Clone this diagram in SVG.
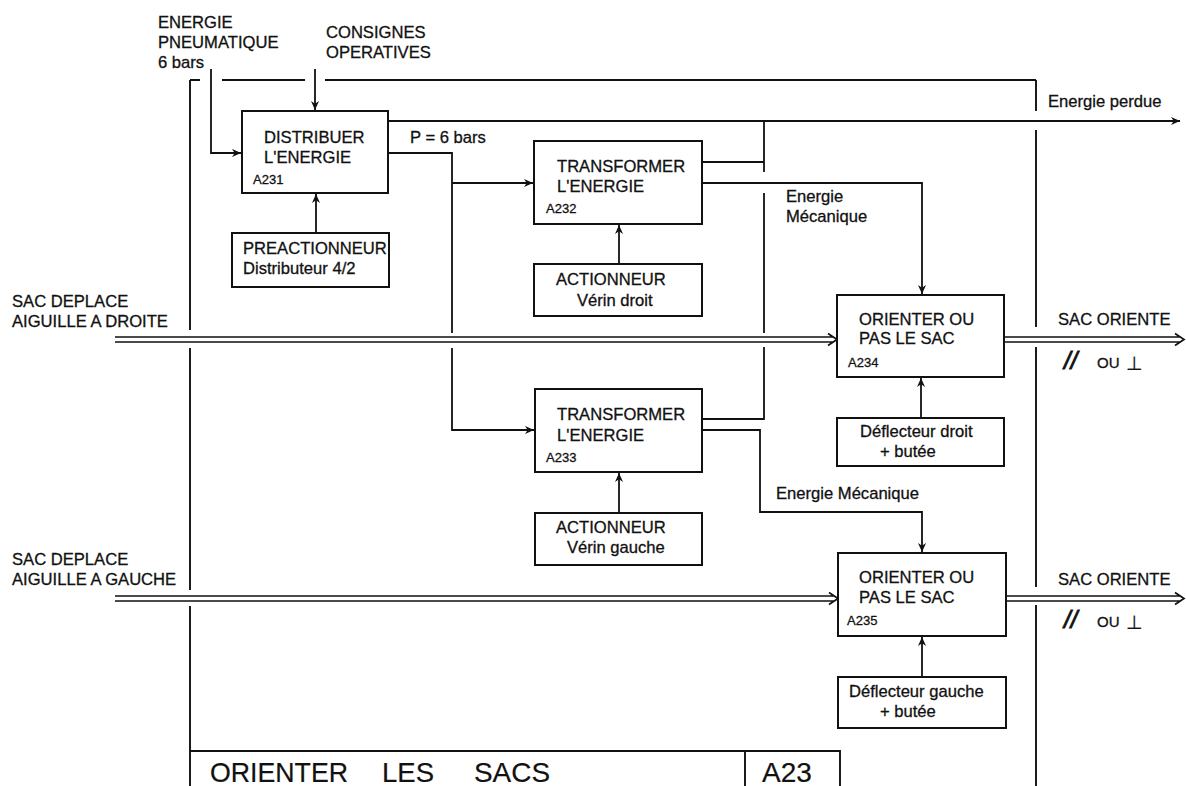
<svg xmlns="http://www.w3.org/2000/svg" width="1186" height="786" viewBox="0 0 1186 786">
<defs>
<marker id="arr" viewBox="0 0 10 10" refX="10" refY="5" markerWidth="9" markerHeight="9" markerUnits="userSpaceOnUse" orient="auto">
<path d="M0,0.5 L10,5 L0,9.5 L3,5 z" fill="#111"/>
</marker>
<style>
text{font-family:"Liberation Sans",Arial,sans-serif;font-size:16.6px;fill:#111;stroke:#111;stroke-width:0.3px}
.sm{font-size:13px}
.big{font-size:28px;stroke-width:0.2px}
.box{fill:#fff;stroke:#111;stroke-width:2}
.ln{fill:none;stroke:#111;stroke-width:1.8}
.dbl{fill:none;stroke:#111;stroke-width:1.7}
.frame{fill:none;stroke:#111;stroke-width:1.9}
.sl{font-size:24px;font-style:italic;stroke-width:0.8px}
.ou{font-size:15px}
.perp{font-family:"DejaVu Sans",sans-serif;font-size:19px;stroke-width:0.2px}
</style>
</defs>
<rect width="1186" height="786" fill="#fff"/>

<g id="frame">
<path class="frame" d="M190,80 V330 M190,348 V590 M190,606 V786"/>
<path class="frame" d="M190,80 H200 M222,80 H305 M325,80 H1036"/>
<path class="frame" d="M1036,80 V111 M1036,130 V327 M1036,347 V587 M1036,605 V786"/>
<path class="frame" d="M190,751 H840 V786 M745,751 V786"/>
<text class="big" x="210" y="782" textLength="138" lengthAdjust="spacingAndGlyphs">ORIENTER</text>
<text class="big" x="382" y="782" textLength="52" lengthAdjust="spacingAndGlyphs">LES</text>
<text class="big" x="474" y="782" textLength="76" lengthAdjust="spacingAndGlyphs">SACS</text>
<text class="big" x="762" y="782">A23</text>
</g>

<g id="connectors">
<path class="ln" d="M211,69 V153 H241" marker-end="url(#arr)"/>
<path class="ln" d="M315,69 V110" marker-end="url(#arr)"/>
<path class="ln" d="M316,233 V194" marker-end="url(#arr)"/>
<path class="ln" d="M388,121 H1180" marker-end="url(#arr)"/>
<path class="ln" d="M388,153 H452 V333 M452,348 V430 H534" marker-end="url(#arr)"/>
<path class="ln" d="M452,183 H533" marker-end="url(#arr)"/>
<path class="ln" d="M702,162 H764 M764,121 V172 M764,193 V333 M764,347 V419 H702"/>
<path class="ln" d="M702,183 H922 V294" marker-end="url(#arr)"/>
<path class="ln" d="M702,430 H760 V512 H922 V552" marker-end="url(#arr)"/>
<path class="ln" d="M619,264 V225" marker-end="url(#arr)"/>
<path class="ln" d="M619,513 V473" marker-end="url(#arr)"/>
<path class="ln" d="M921,418 V378" marker-end="url(#arr)"/>
<path class="ln" d="M922,677 V637" marker-end="url(#arr)"/>
<path class="dbl" d="M115,337 H834 M115,342 H834 M828,333.5 L837,339.5 L828,345.5"/>
<path class="dbl" d="M1004,337 H1181 M1004,342 H1181 M1175,333.5 L1184,339.5 L1175,345.5"/>
<path class="dbl" d="M115,596 H835 M115,601 H835 M829,592.5 L838,598.5 L829,604.5"/>
<path class="dbl" d="M1006,596 H1181 M1006,601 H1181 M1175,592.5 L1184,598.5 L1175,604.5"/>
</g>

<g id="labels">
<text x="158" y="28">ENERGIE</text>
<text x="158" y="48">PNEUMATIQUE</text>
<text x="158" y="68">6 bars</text>
<text x="326" y="38">CONSIGNES</text>
<text x="326" y="58">OPERATIVES</text>
<text x="410" y="143">P = 6 bars</text>
<text x="1048" y="107">Energie perdue</text>
<text x="786" y="202">Energie</text>
<text x="786" y="222">Mécanique</text>
<text x="776" y="499">Energie Mécanique</text>
<text x="12" y="307">SAC DEPLACE</text>
<text x="12" y="327">AIGUILLE A DROITE</text>
<text x="12" y="565">SAC DEPLACE</text>
<text x="12" y="585">AIGUILLE A GAUCHE</text>
<text x="1058" y="325">SAC ORIENTE</text>
<text x="1058" y="585">SAC ORIENTE</text>
<text class="sl" x="1064" y="369">//</text>
<text class="ou" x="1097" y="368">OU</text>
<text class="perp" x="1126" y="370">⊥</text>
<text class="sl" x="1064" y="628">//</text>
<text class="ou" x="1097" y="627">OU</text>
<text class="perp" x="1126" y="629">⊥</text>
</g>

<g id="A231">
<rect class="box" x="242" y="111" width="146" height="82"/>
<text x="264" y="143">DISTRIBUER</text>
<text x="264" y="163">L'ENERGIE</text>
<text class="sm" x="253" y="184">A231</text>
</g>

<g id="preactionneur">
<rect class="box" x="232" y="233" width="157" height="54"/>
<text x="243" y="254">PREACTIONNEUR</text>
<text x="243" y="274">Distributeur 4/2</text>
</g>

<g id="A232">
<rect class="box" x="534" y="141" width="168" height="83"/>
<text x="557" y="172">TRANSFORMER</text>
<text x="557" y="192">L'ENERGIE</text>
<text class="sm" x="546" y="213">A232</text>
</g>

<g id="actionneur-droit">
<rect class="box" x="534" y="264" width="168" height="52"/>
<text x="556" y="285">ACTIONNEUR</text>
<text x="577" y="306">Vérin droit</text>
</g>

<g id="A233">
<rect class="box" x="535" y="389" width="167" height="83"/>
<text x="557" y="420">TRANSFORMER</text>
<text x="557" y="441">L'ENERGIE</text>
<text class="sm" x="546" y="462">A233</text>
</g>

<g id="actionneur-gauche">
<rect class="box" x="535" y="513" width="167" height="52"/>
<text x="556" y="533">ACTIONNEUR</text>
<text x="567" y="553">Vérin gauche</text>
</g>

<g id="A234">
<rect class="box" x="837" y="295" width="167" height="82"/>
<text x="859" y="325">ORIENTER OU</text>
<text x="859" y="344">PAS LE SAC</text>
<text class="sm" x="848" y="367">A234</text>
</g>

<g id="deflecteur-droit">
<rect class="box" x="837" y="418" width="167" height="48"/>
<text x="860" y="437">Déflecteur droit</text>
<text x="880" y="457">+ butée</text>
</g>

<g id="A235">
<rect class="box" x="838" y="553" width="168" height="83"/>
<text x="859" y="583">ORIENTER OU</text>
<text x="859" y="603">PAS LE SAC</text>
<text class="sm" x="847" y="625">A235</text>
</g>

<g id="deflecteur-gauche">
<rect class="box" x="838" y="677" width="168" height="51"/>
<text x="849" y="697">Déflecteur gauche</text>
<text x="880" y="717">+ butée</text>
</g>
</svg>
